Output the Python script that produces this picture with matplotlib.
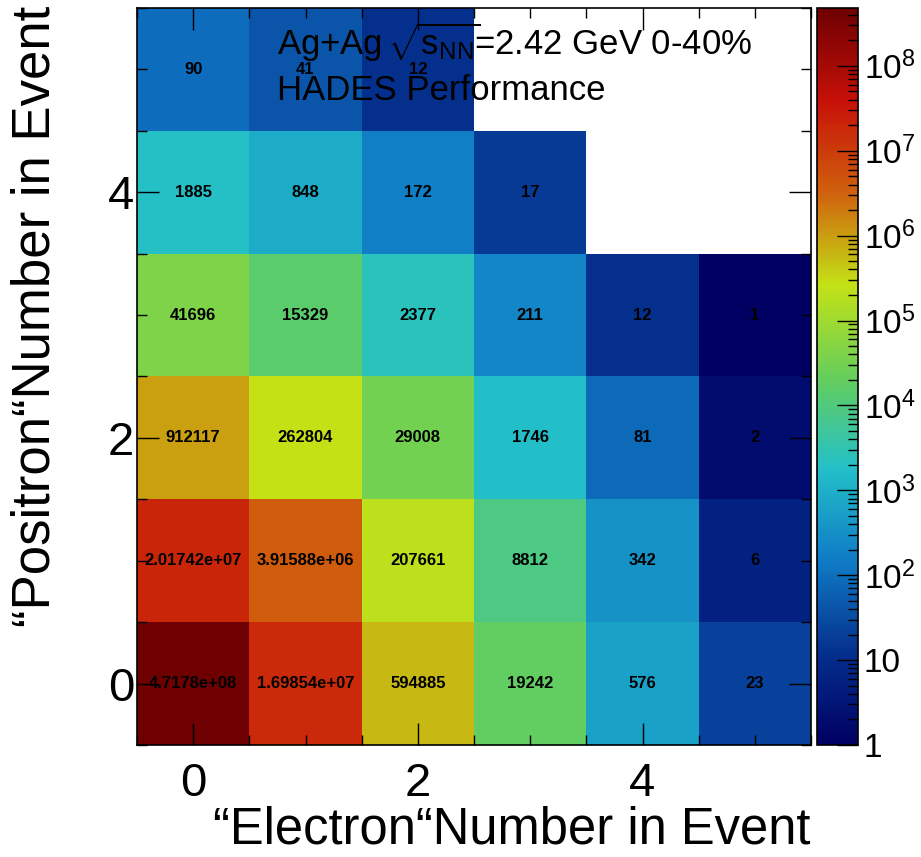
import numpy as np
import matplotlib
matplotlib.use("Agg")
import matplotlib.pyplot as plt
from matplotlib.colors import LinearSegmentedColormap, LogNorm
from matplotlib.ticker import MultipleLocator, LogLocator, FixedLocator, FuncFormatter

plt.rcParams['font.family'] = ['Liberation Sans', 'DejaVu Sans']
plt.rcParams['mathtext.fontset'] = 'custom'
plt.rcParams['mathtext.rm'] = 'Liberation Sans'
plt.rcParams['mathtext.it'] = 'Liberation Sans'
plt.rcParams['mathtext.bf'] = 'Liberation Sans:bold'

# data: rows = positron number 0..5, columns = electron number 0..5 (0 = empty bin)
electron_n = [0, 1, 2, 3, 4, 5]
positron_n = [0, 1, 2, 3, 4, 5]
row_p0 = [4.7178e8, 1.69854e7, 594885, 19242, 576, 23]
row_p1 = [2.01742e7, 3.91588e6, 207661, 8812, 342, 6]
row_p2 = [912117, 262804, 29008, 1746, 81, 2]
row_p3 = [41696, 15329, 2377, 211, 12, 1]
row_p4 = [1885, 848, 172, 17, 0, 0]
row_p5 = [90, 41, 12, 0, 0, 0]

# ROOT kRainBow palette
pal_r = [0, 5, 15, 35, 102, 196, 208, 199, 110]
pal_g = [0, 48, 124, 192, 206, 226, 97, 16, 0]
pal_b = [99, 142, 198, 201, 90, 22, 13, 8, 2]
rainbow = LinearSegmentedColormap.from_list(
    "kRainBow", [(r / 255, g / 255, b / 255) for r, g, b in zip(pal_r, pal_g, pal_b)], N=255)

z = np.array([row_p0, row_p1, row_p2, row_p3, row_p4, row_p5], dtype=float)
zm = np.ma.masked_where(z <= 0, z)

fig = plt.figure(figsize=(9.21, 8.57), dpi=100)
ax = fig.add_axes([137 / 921, 1 - 745 / 857, 674 / 921, 737 / 857])

xe = np.arange(len(electron_n) + 1) - 0.5
ye = np.arange(len(positron_n) + 1) - 0.5
norm = LogNorm(vmin=1, vmax=4.8e8)
mesh = ax.pcolormesh(xe, ye, zm, cmap=rainbow, norm=norm)

for j, p in enumerate(positron_n):
    for i, e in enumerate(electron_n):
        if z[j, i] > 0:
            ax.text(e, p, '%g' % z[j, i], ha='center', va='center',
                    fontsize=12, fontweight='bold', color='black')

ax.set_xlim(-0.5, 5.5)
ax.set_ylim(-0.5, 5.5)
ax.xaxis.set_major_locator(MultipleLocator(2))
ax.xaxis.set_minor_locator(MultipleLocator(0.5))
ax.yaxis.set_major_locator(MultipleLocator(2))
ax.yaxis.set_minor_locator(MultipleLocator(0.5))
ax.tick_params(which='both', direction='in', top=True, right=True, width=1)
ax.tick_params(which='major', length=16, labelsize=34)
ax.tick_params(which='minor', length=7)
ax.tick_params(axis='x', which='major', pad=12)
ax.tick_params(axis='y', which='major', pad=2)
for s in ax.spines.values():
    s.set_linewidth(1.2)

# colour bar
cax = fig.add_axes([817 / 921, 1 - 745 / 857, 41 / 921, 737 / 857])
cb = fig.colorbar(mesh, cax=cax)
cb.outline.set_linewidth(1.2)
cax.yaxis.set_major_locator(FixedLocator([10.0 ** k for k in range(9)]))
cax.yaxis.set_minor_locator(LogLocator(base=10, subs=np.arange(2, 10)))


def cb_label(v, pos):
    k = int(round(np.log10(v)))
    if k == 0:
        return '1'
    if k == 1:
        return '10'
    return r'$10^{%d}$' % k


cax.yaxis.set_major_formatter(FuncFormatter(cb_label))
cax.tick_params(which='both', direction='in', right=True, left=False, width=1)
cax.tick_params(which='major', length=15, labelsize=24, pad=4)
cax.tick_params(which='minor', length=7)

# titles and labels
fig.text(277 / 921, 1 - 55 / 857, r'Ag+Ag$\,\sqrt{\mathrm{s}_{\mathrm{NN}}}\!$=2.42 GeV 0-40%',
         fontsize=25, ha='left', va='baseline')
fig.text(277 / 921, 1 - 100 / 857, 'HADES Performance',
         fontsize=25, ha='left', va='baseline')
fig.text(810 / 921, 1 - 844 / 857, '\u201cElectron\u201cNumber in Event',
         fontsize=36.5, ha='right', va='baseline')
fig.text(36 / 921, 1 - 6 / 857, '\u201cPositron\u201cNumber in Event',
         fontsize=38, ha='center', va='top', rotation=90)

fig.savefig('out.png', dpi=100)
